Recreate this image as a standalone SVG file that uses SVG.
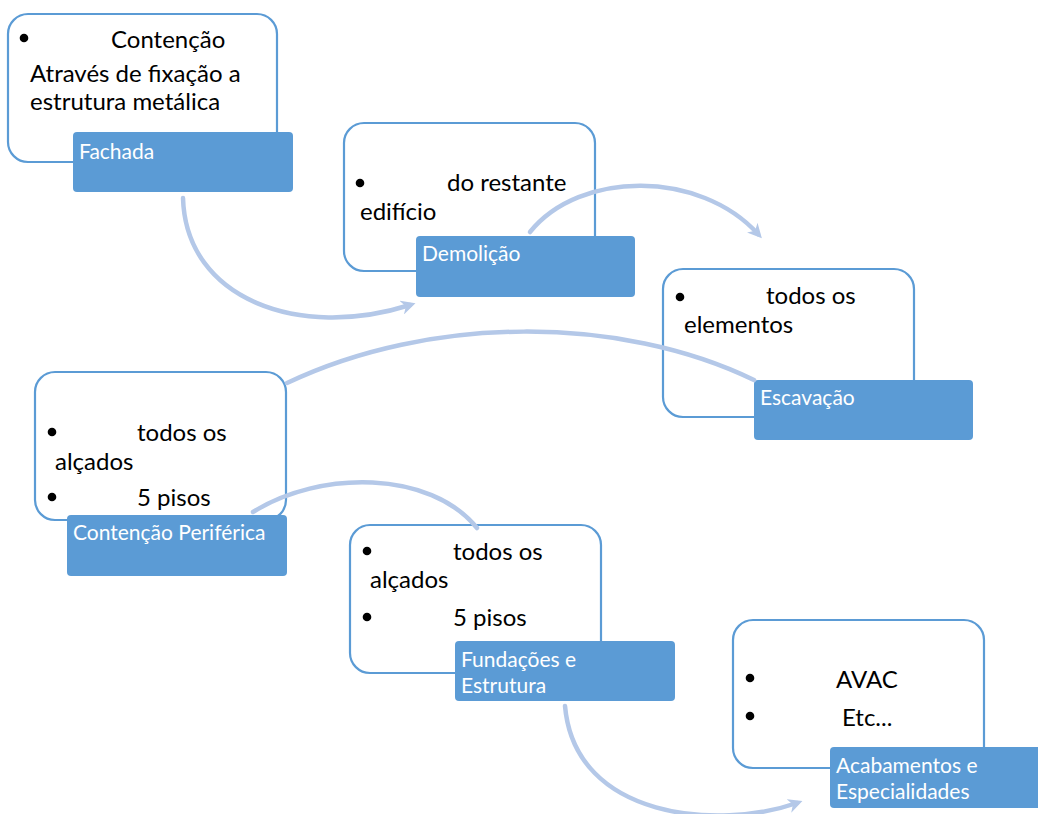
<svg xmlns="http://www.w3.org/2000/svg" width="1038" height="814" viewBox="0 0 1038 814">
<defs>
<marker id="arr" viewBox="0 0 10 10" refX="6" refY="5" markerWidth="3.2" markerHeight="3.2" orient="auto" markerUnits="strokeWidth">
<path d="M0,0 L10,5 L0,10 L3,5 Z" fill="#B4C8E8"/>
</marker>
</defs>
<style>
.card{fill:#fff;stroke:#5B9BD5;stroke-width:2.2}
.lab{fill:#5B9BD5}
.t{font-family:Lato,"Open Sans","Liberation Sans",sans-serif;font-size:24px;fill:#000}
.w{font-family:Lato,"Open Sans","Liberation Sans",sans-serif;font-size:21px;fill:#fff}
.b{fill:#000}
.c{fill:none;stroke:#B4C8E8;stroke-width:4.5;stroke-linecap:round}
</style>
<rect width="1038" height="814" fill="#fff"/>
<g id="fachada">
<rect class="card" x="8" y="14" width="269" height="148" rx="20"/>
<rect class="lab" x="73" y="132" width="220" height="60" rx="4"/>
<circle class="b" cx="24" cy="38" r="4.3"/>
<text class="t" x="111" y="48">Contenção</text>
<text class="t" x="30" y="82">Através de fixação a</text>
<text class="t" x="30" y="110">estrutura metálica</text>
<text class="w" x="79" y="159">Fachada</text>
</g>
<g id="demolicao">
<rect class="card" x="344" y="123" width="251" height="148" rx="20"/>
<rect class="lab" x="416" y="236" width="219" height="61" rx="4"/>
<circle class="b" cx="360" cy="183" r="4.3"/>
<text class="t" x="447" y="191">do restante</text>
<text class="t" x="360" y="220">edifício</text>
<text class="w" x="422" y="261">Demolição</text>
</g>
<g id="escavacao">
<rect class="card" x="663" y="269" width="251" height="148" rx="20"/>
<rect class="lab" x="754" y="380" width="219" height="60" rx="4"/>
<circle class="b" cx="680" cy="297" r="4.3"/>
<text class="t" x="766" y="304">todos os</text>
<text class="t" x="684" y="333">elementos</text>
<text class="w" x="760" y="405">Escavação</text>
</g>
<g id="contencao-periferica">
<rect class="card" x="35" y="372" width="251" height="148" rx="20"/>
<rect class="lab" x="67" y="515" width="220" height="61" rx="4"/>
<circle class="b" cx="52" cy="432" r="4.3"/>
<text class="t" x="137" y="441">todos os</text>
<text class="t" x="55" y="470">alçados</text>
<circle class="b" cx="52" cy="497" r="4.3"/>
<text class="t" x="137" y="506">5 pisos</text>
<text class="w" x="73" y="540">Contenção Periférica</text>
</g>
<g id="fundacoes">
<rect class="card" x="350" y="525" width="251" height="148" rx="20"/>
<rect class="lab" x="455" y="641" width="220" height="60" rx="4"/>
<circle class="b" cx="367" cy="551" r="4.3"/>
<text class="t" x="453" y="560">todos os</text>
<text class="t" x="370" y="588">alçados</text>
<circle class="b" cx="367" cy="617" r="4.3"/>
<text class="t" x="453" y="626">5 pisos</text>
<text class="w" x="461" y="667">Fundações e</text>
<text class="w" x="461" y="693">Estrutura</text>
</g>
<g id="acabamentos">
<rect class="card" x="733" y="620" width="251" height="148" rx="20"/>
<rect class="lab" x="830" y="747" width="212" height="61" rx="4"/>
<circle class="b" cx="750" cy="678" r="4.3"/>
<text class="t" x="836" y="688">AVAC</text>
<circle class="b" cx="750" cy="716" r="4.3"/>
<text class="t" x="842" y="726">Etc...</text>
<text class="w" x="836" y="773">Acabamentos e</text>
<text class="w" x="836" y="799">Especialidades</text>
</g>
<g id="connectors">
<path class="c" d="M183,198 C186,300 300,340 410,305" marker-end="url(#arr)"/>
<path class="c" d="M530,232 C580,170 700,170 758,234" marker-end="url(#arr)"/>
<path class="c" d="M287,383 C430,315 620,315 754,380"/>
<path class="c" d="M253,512 C320,470 430,470 477,528"/>
<path class="c" d="M565,706 C575,820 720,830 797,803" marker-end="url(#arr)"/>
</g>
</svg>
